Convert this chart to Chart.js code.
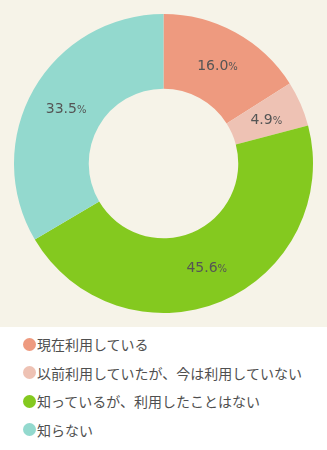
<!DOCTYPE html>
<html>
<head>
<meta charset="utf-8">
<script src="https://cdn.jsdelivr.net/npm/chart.js@4/dist/chart.umd.min.js"></script>
<style>
  html, body { margin: 0; padding: 0; }
  body { width: 327px; height: 450px; background: #fff; overflow: hidden; }
  #top { width: 327px; height: 327px; background: #f6f3e8; }
  #legend { list-style: none; margin: 0; padding: 3px 0 0 0; font-family: "Noto Sans CJK JP", sans-serif; font-size: 14px; color: #4f4f4f; }
  #legend li { height: 28.5px; line-height: 28px; position: relative; padding-left: 37px; white-space: nowrap; }
  #legend li span { position: absolute; left: 23px; top: 7.5px; width: 13px; height: 13px; border-radius: 50%; }
</style>
</head>
<body>
<div id="top"><canvas id="donut" width="327" height="327"></canvas></div>
<ul id="legend"></ul>
<script>
// answers and their shares (%)
const categories = ['現在利用している', '以前利用していたが、今は利用していない', '知っているが、利用したことはない', '知らない'];
const shares = [16.0, 4.9, 45.6, 33.5];
const colors = ['#ee9a7f', '#eec2b4', '#84c91f', '#93d9ce'];

// draws "16.0%" on each slice, with a smaller percent sign
const sliceLabels = {
  id: 'sliceLabels',
  afterDatasetsDraw(chart) {
    const ctx = chart.ctx;
    const meta = chart.getDatasetMeta(0);
    meta.data.forEach((arc, i) => {
      const p = arc.tooltipPosition();
      const num = shares[i].toFixed(1);
      ctx.save();
      ctx.fillStyle = '#555';
      ctx.textBaseline = 'alphabetic';
      ctx.font = '14px "DejaVu Sans"';
      const w1 = ctx.measureText(num).width;
      ctx.font = '10px "DejaVu Sans"';
      const w2 = ctx.measureText('%').width;
      const x = p.x - (w1 + w2) / 2;
      const y = p.y + 5;
      ctx.textAlign = 'left';
      ctx.font = '14px "DejaVu Sans"';
      ctx.fillText(num, x, y);
      ctx.font = '10px "DejaVu Sans"';
      ctx.fillText('%', x + w1, y);
      ctx.restore();
    });
  }
};

const chart = new Chart(document.getElementById('donut'), {
  type: 'doughnut',
  data: {
    labels: categories,
    datasets: [{
      data: shares,
      backgroundColor: colors,
      borderWidth: 0
    }]
  },
  options: {
    responsive: false,
    animation: false,
    cutout: '50%',
    layout: { padding: 14 },
    plugins: {
      legend: { display: false },
      tooltip: { enabled: false }
    }
  },
  plugins: [sliceLabels]
});

// legend list below the chart
const list = document.getElementById('legend');
chart.options.plugins.legend.labels.generateLabels(chart).forEach(item => {
  const li = document.createElement('li');
  const dot = document.createElement('span');
  dot.style.background = item.fillStyle;
  li.appendChild(dot);
  li.appendChild(document.createTextNode(item.text));
  list.appendChild(li);
});
</script>
</body>
</html>
